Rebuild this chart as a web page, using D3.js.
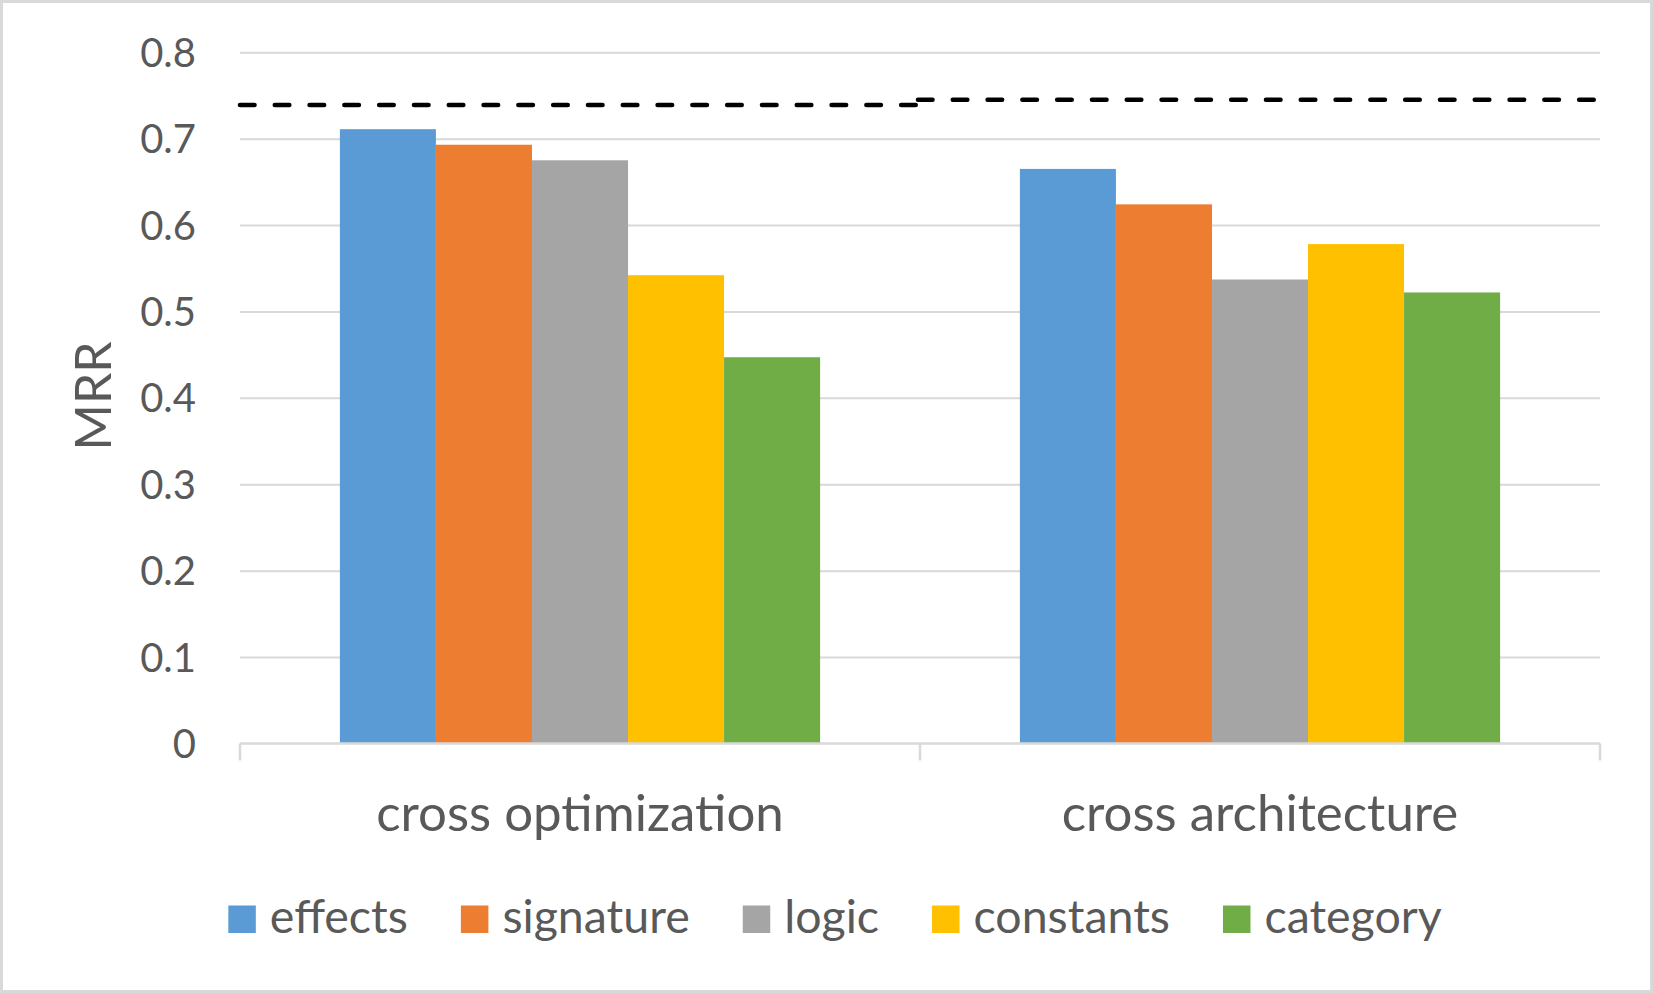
<!DOCTYPE html>
<html>
<head>
<meta charset="utf-8">
<script src="https://cdn.jsdelivr.net/npm/d3@7"></script>
<style>
  html, body { margin: 0; padding: 0; background: #fff; }
  svg { display: block; }
  text { font-family: Lato, "Open Sans", sans-serif; fill: #595959; }
</style>
</head>
<body>
<svg id="chart" width="1653" height="993"></svg>
<script>
// ---- data ----
const categories = ["cross optimization", "cross architecture"];
const seriesNames = ["effects", "signature", "logic", "constants", "category"];
const seriesColors = ["#5B9BD5", "#ED7D31", "#A5A5A5", "#FFC000", "#70AD47"];
const effects   = [0.711, 0.665];
const signature = [0.693, 0.624];
const logic     = [0.675, 0.537];
const constants = [0.542, 0.578];
const category  = [0.447, 0.522];
const baselineValues = [0.739, 0.745];
const yTicks = [0, 0.1, 0.2, 0.3, 0.4, 0.5, 0.6, 0.7, 0.8];
const yTickLabels = ["0", "0.1", "0.2", "0.3", "0.4", "0.5", "0.6", "0.7", "0.8"];
const yAxisTitle = "MRR";

const seriesValues = [effects, signature, logic, constants, category];

// ---- layout ----
const W = 1653, H = 993;
const plot = { left: 240, right: 1600, top: 52.3, bottom: 743.4 };
const svg = d3.select("#chart");
const gridColor = "#D9D9D9";

svg.append("rect")
  .attr("x", 1.5).attr("y", 1.5)
  .attr("width", W - 3).attr("height", H - 3)
  .attr("fill", "#fff").attr("stroke", gridColor).attr("stroke-width", 3);

const x0 = d3.scaleBand().domain(categories).range([plot.left, plot.right]).paddingInner(0).paddingOuter(0);
const x1 = d3.scaleBand().domain(seriesNames).range([0, x0.bandwidth()]).paddingOuter(1.04).paddingInner(0);
const y = d3.scaleLinear().domain([0, 0.8]).range([plot.bottom, plot.top]);

// gridlines
const grid = svg.append("g")
  .attr("transform", `translate(${plot.left},0)`)
  .call(d3.axisLeft(y).tickValues(yTicks.slice(1)).tickSize(-(plot.right - plot.left)).tickFormat(""));
grid.select(".domain").remove();
grid.selectAll(".tick line").attr("stroke", gridColor).attr("stroke-width", 2);

// y tick labels
const yLab = svg.append("g")
  .attr("transform", `translate(${plot.left},0)`)
  .call(d3.axisLeft(y).tickValues(yTicks).tickSize(0).tickPadding(44)
    .tickFormat((d, i) => yTickLabels[i]));
yLab.select(".domain").remove();
yLab.selectAll(".tick text")
  .attr("dy", null).attr("y", 14)
  .style("font-family", "Lato, sans-serif").style("font-size", "40px").attr("fill", "#595959");

// bars
const groups = svg.append("g").selectAll("g")
  .data(categories)
  .join("g")
  .attr("transform", d => `translate(${x0(d)},0)`);

groups.selectAll("rect")
  .data((c, ci) => seriesNames.map((s, si) => ({ s, si, v: seriesValues[si][ci] })))
  .join("rect")
  .attr("x", d => x1(d.s))
  .attr("width", x1.bandwidth())
  .attr("y", d => y(d.v))
  .attr("height", d => y(0) - y(d.v))
  .attr("fill", d => seriesColors[d.si]);

// x axis
const xAxis = svg.append("g")
  .attr("transform", `translate(0,${plot.bottom})`)
  .call(d3.axisBottom(x0).tickSize(0).tickFormat(""));
xAxis.select(".domain").attr("stroke", gridColor).attr("stroke-width", 2.5)
  .attr("d", `M${plot.left},0H${plot.right}`);
xAxis.selectAll(".tick").remove();
const edges = [plot.left].concat(categories.map(c => x0(c) + x0.bandwidth()));
xAxis.selectAll("line.edge").data(edges).join("line")
  .attr("class", "edge")
  .attr("x1", d => d).attr("x2", d => d)
  .attr("y1", 0).attr("y2", 17)
  .attr("stroke", gridColor).attr("stroke-width", 2.5);

// category labels
svg.append("g").selectAll("text")
  .data(categories).join("text")
  .attr("x", d => x0(d) + x0.bandwidth() / 2)
  .attr("y", 831)
  .attr("text-anchor", "middle")
  .style("font-size", "51px")
  .text(d => d);

// dashed baseline per category
svg.append("g").selectAll("line")
  .data(categories).join("line")
  .attr("x1", (d, i) => x0(d) + (i === 0 ? 0 : -2))
  .attr("x2", (d, i) => x0(d) + x0.bandwidth() + (i === 0 ? 2 : 0))
  .attr("y1", (d, i) => y(baselineValues[i]))
  .attr("y2", (d, i) => y(baselineValues[i]))
  .attr("stroke", "#000").attr("stroke-width", 4.6)
  .attr("stroke-linecap", "round")
  .attr("stroke-dasharray", "14.5,20.3");

// y axis title
svg.append("text")
  .attr("transform", "translate(111,396) rotate(-90)")
  .attr("text-anchor", "middle")
  .style("font-size", "50px")
  .text(yAxisTitle);

// legend
const legend = svg.append("g");
const sq = 27.5, sqGap = 14, itemGap = 53, legendBaseline = 933, legendCenter = 835;
const items = legend.selectAll("g").data(seriesNames).join("g");
items.append("rect")
  .attr("width", sq).attr("height", sq)
  .attr("y", legendBaseline - sq)
  .attr("fill", (d, i) => seriesColors[i]);
items.append("text")
  .attr("x", sq + sqGap)
  .attr("y", legendBaseline)
  .style("font-size", "46.5px")
  .text(d => d);
let widths = [];
items.each(function() {
  widths.push(sq + sqGap + d3.select(this).select("text").node().getComputedTextLength());
});
const total = d3.sum(widths) + itemGap * (widths.length - 1);
let cx = legendCenter - total / 2;
items.attr("transform", (d, i) => {
  const t = `translate(${cx},0)`;
  cx += widths[i] + itemGap;
  return t;
});
</script>
</body>
</html>
